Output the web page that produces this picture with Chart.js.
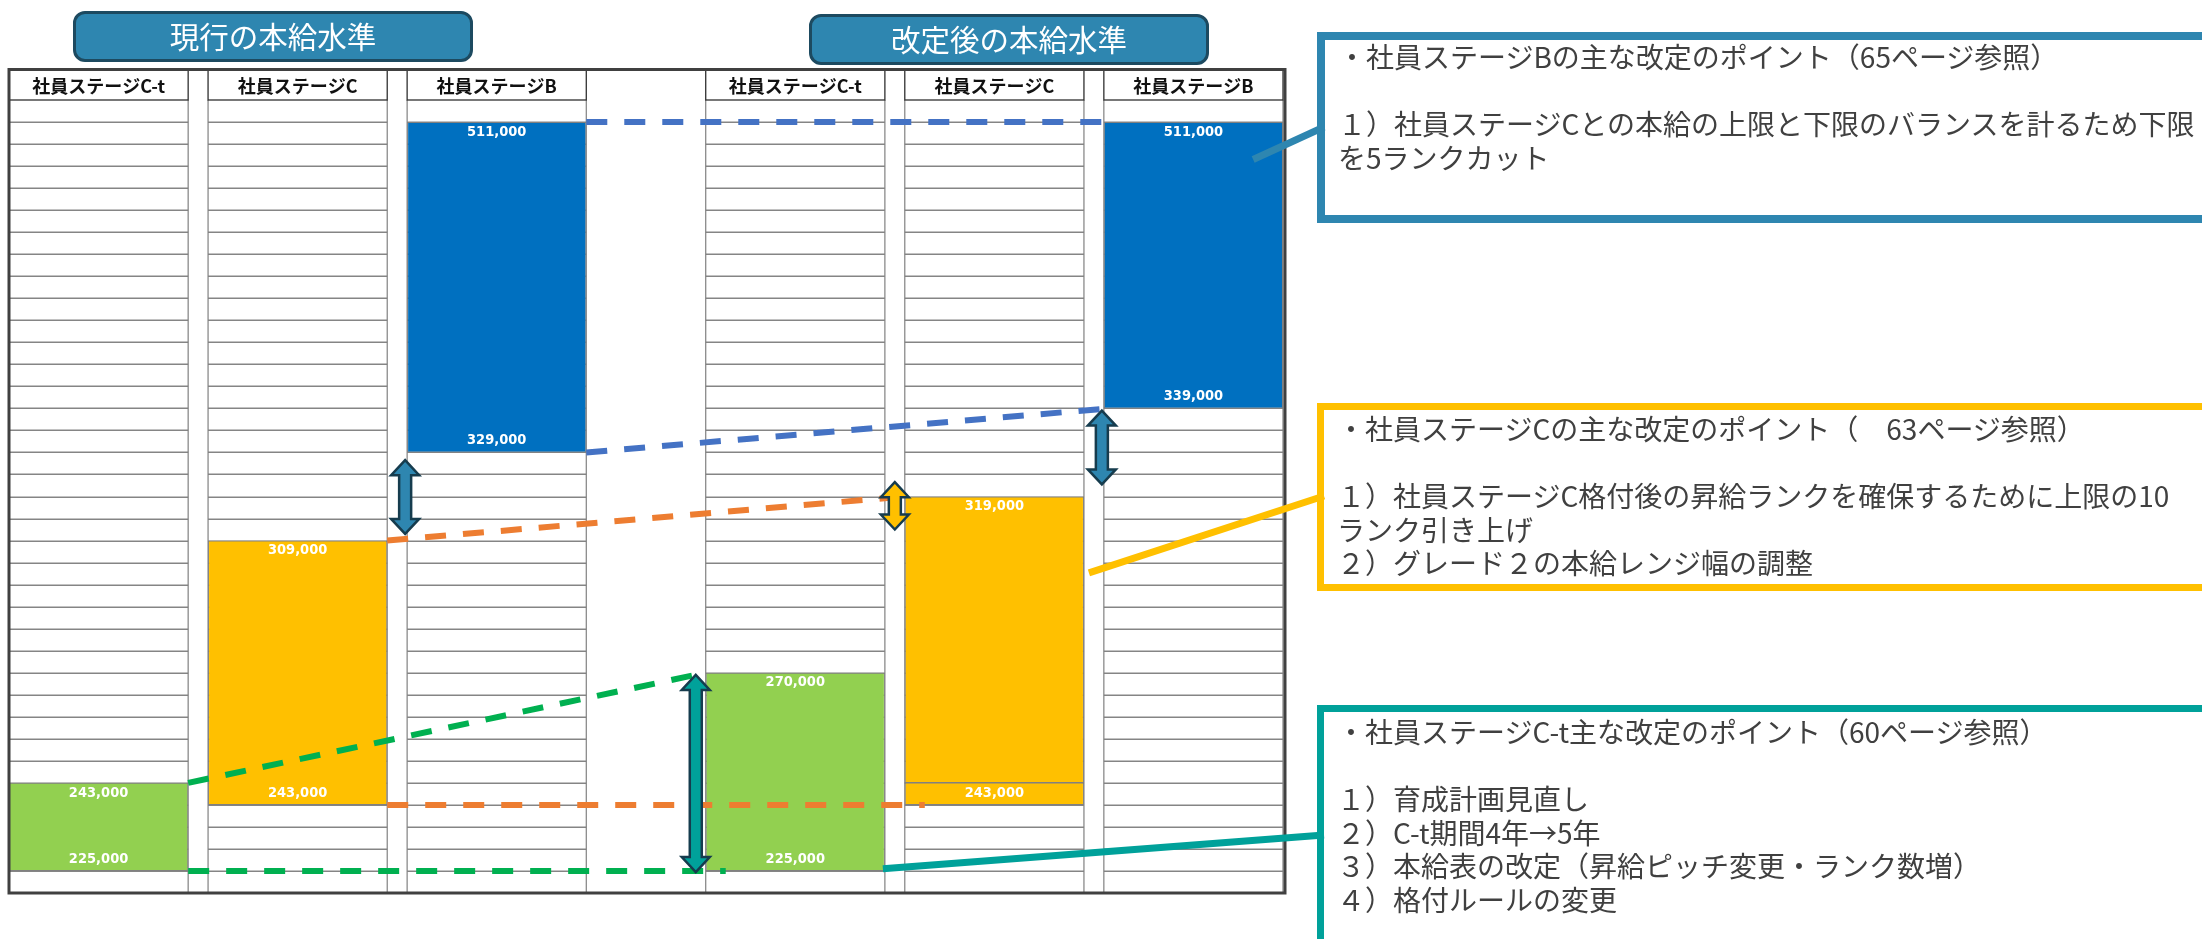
<!DOCTYPE html>
<html lang="ja">
<head>
<meta charset="utf-8">
<title>本給水準の改定</title>
<script src="https://cdn.jsdelivr.net/npm/chart.js@4.4.1/dist/chart.umd.min.js"></script>
<style>
  html, body { margin: 0; padding: 0; background: #fff; }
  body { width: 2202px; height: 939px; position: relative; overflow: hidden; font-family: 'Noto Sans CJK JP', 'Noto Sans', sans-serif; }
  #levels { position: absolute; left: 0; top: 0; }
  .period { position: absolute; box-sizing: border-box; width: 400px; height: 51px; background: #2E86B0; border: 3px solid #1D4A60; border-radius: 12px; color: #fff; font-size: 29.5px; line-height: 42px; text-align: center; }
  .note { position: absolute; left: 1317px; width: 950px; box-sizing: border-box; border: 7px solid; padding-left: 13px; color: #404040; font-size: 28px; line-height: 33.5px; white-space: nowrap; }
</style>
</head>
<body>
<canvas id="levels" width="2202" height="939"></canvas>

<div class="period" style="left:73px; top:11px;">現行の本給水準</div>
<div class="period" style="left:809px; top:14px;">改定後の本給水準</div>

<div class="note" style="top:32px; height:191px; border-width:8px; border-color:#2E86B0; padding-top:0;">
  ・社員ステージBの主な改定のポイント（65ページ参照）<br><br>
  １）社員ステージCとの本給の上限と下限のバランスを計るため下限<br>
  を5ランクカット
</div>
<div class="note" style="top:403px; height:188px; border-color:#FFC000; padding-top:2px;">
  ・社員ステージCの主な改定のポイント（　63ページ参照）<br><br>
  １）社員ステージC格付後の昇給ランクを確保するために上限の10<br>
  ランク引き上げ<br>
  ２）グレード２の本給レンジ幅の調整
</div>
<div class="note" style="top:705px; height:280px; border-color:#00A19A; padding-top:3px;">
  ・社員ステージC-t主な改定のポイント（60ページ参照）<br><br>
  １）育成計画見直し<br>
  ２）C-t期間4年→5年<br>
  ３）本給表の改定（昇給ピッチ変更・ランク数増）<br>
  ４）格付ルールの変更
</div>

<script>
// salary table: 36 rank rows, counted from the top row (0)
const rankCount = 36;
const stageNames = ['社員ステージC-t', '社員ステージC', '社員ステージB'];

// rank rows [first, end) covered by each stage
const currentRanks = [[31, 35], [20, 32], [1, 16]];
const revisedRanks = [[26, 35], [18, 32], [1, 14]];

// salary at the top and bottom of each stage
const currentUpper = [243000, 309000, 511000];
const currentLower = [225000, 243000, 329000];
const revisedUpper = [270000, 319000, 511000];
const revisedLower = [225000, 243000, 339000];

// revised stage C keeps its lowest rank as a separate cell
const revisedLowestCell = [false, true, false];

const stageColors = ['#92D050', '#FFC000', '#0070C0'];
const linkColors = ['#00B050', '#ED7D31', '#4472C4'];

// column positions on the x scale: three current, three revised
const slots = [0, 1, 2, 3.5, 4.5, 5.5];

const bands = [];
currentRanks.forEach((r, i) => bands.push({ x: slots[i], y: r, upper: currentUpper[i], lower: currentLower[i], stage: i }));
revisedRanks.forEach((r, i) => bands.push({ x: slots[i + 3], y: r, upper: revisedUpper[i], lower: revisedLower[i], stage: i, split: revisedLowestCell[i] }));

// double arrows showing the shift between stages (x on the column scale, rank rows)
const shiftArrows = [
  { x: 1.54, from: 16.35, to: 19.7, color: '#2E86B0' },
  { x: 5.04, from: 14.1, to: 17.45, color: '#2E86B0' },
  { x: 4.0, from: 17.35, to: 19.5, color: '#FFC000' },
  { x: 3.0, from: 26.1, to: 35.05, color: '#00A19A' },
];

// lines from the revised bands to the note boxes
const noteLinks = [
  { x: 5.8, rank: 2.7, toX: 1324, toY: 127, color: '#2E86B0' },
  { x: 4.975, rank: 21.47, toX: 1324, toY: 496, color: '#FFC000' },
  { x: 3.94, rank: 34.9, toX: 1324, toY: 835, color: '#00A19A' },
];

const fmt = v => v.toLocaleString('en-US');

function edges(el) {
  return { left: el.x - el.width / 2, right: el.x + el.width / 2 };
}

// header cells, column borders and rank rows behind the bands
const rankGrid = {
  id: 'rankGrid',
  beforeDatasetsDraw(chart) {
    const { ctx, chartArea, scales: { y } } = chart;
    const meta = chart.getDatasetMeta(0);
    ctx.save();
    meta.data.forEach((el, i) => {
      const { left, right } = edges(el);
      ctx.strokeStyle = '#858585';
      ctx.lineWidth = 1.6;
      for (let r = 1; r < rankCount; r++) {
        const yy = Math.round(y.getPixelForValue(r)) + 0.25;
        ctx.beginPath();
        ctx.moveTo(left, yy);
        ctx.lineTo(right, yy);
        ctx.stroke();
      }
      ctx.strokeStyle = '#808080';
      ctx.lineWidth = 1.2;
      [left, right].forEach(xx => {
        ctx.beginPath();
        ctx.moveTo(xx, chartArea.top);
        ctx.lineTo(xx, chartArea.bottom);
        ctx.stroke();
      });

      // header cell
      ctx.strokeStyle = '#303030';
      ctx.lineWidth = 1.3;
      ctx.strokeRect(left, 70, right - left, chartArea.top - 70);
      ctx.fillStyle = '#111';
      ctx.font = "bold 18px 'Noto Sans CJK JP'";
      ctx.textAlign = 'center';
      ctx.textBaseline = 'middle';
      ctx.fillText(stageNames[i % 3], el.x, (70 + chartArea.top) / 2 + 1);
    });
    ctx.restore();
  }
};

function drawArrow(ctx, cx, y0, y1, fill) {
  const head = 15, hw = 14, sw = 6;
  ctx.beginPath();
  ctx.moveTo(cx, y0);
  ctx.lineTo(cx + hw, y0 + head);
  ctx.lineTo(cx + sw, y0 + head);
  ctx.lineTo(cx + sw, y1 - head);
  ctx.lineTo(cx + hw, y1 - head);
  ctx.lineTo(cx, y1);
  ctx.lineTo(cx - hw, y1 - head);
  ctx.lineTo(cx - sw, y1 - head);
  ctx.lineTo(cx - sw, y0 + head);
  ctx.lineTo(cx - hw, y0 + head);
  ctx.closePath();
  ctx.fillStyle = fill;
  ctx.fill();
  ctx.lineWidth = 2.5;
  ctx.lineJoin = 'miter';
  ctx.strokeStyle = '#163C4E';
  ctx.stroke();
}

// labels, frame, dashed links, arrows and note lines over the bands
const overlays = {
  id: 'overlays',
  afterDatasetsDraw(chart) {
    const { ctx, chartArea, scales: { x, y } } = chart;
    const meta = chart.getDatasetMeta(0);
    ctx.save();

    meta.data.forEach((el, i) => {
      const band = bands[i];
      const { left, right } = edges(el);
      if (band.split) {
        const yy = y.getPixelForValue(band.y[1] - 1);
        ctx.strokeStyle = '#808080';
        ctx.lineWidth = 1.5;
        ctx.beginPath();
        ctx.moveTo(left, yy);
        ctx.lineTo(right, yy);
        ctx.stroke();
      }
      ctx.fillStyle = '#ffffff';
      ctx.font = "bold 14.5px 'DejaVu Sans Condensed', 'DejaVu Sans'";
      ctx.textAlign = 'center';
      ctx.textBaseline = 'middle';
      ctx.fillText(fmt(band.upper), el.x, y.getPixelForValue(band.y[0] + 0.45));
      ctx.fillText(fmt(band.lower), el.x, y.getPixelForValue(band.y[1] - 0.55));
    });

    // outer frame
    ctx.strokeStyle = '#404040';
    ctx.lineWidth = 3;
    ctx.strokeRect(chartArea.left, 69.5, chartArea.right - chartArea.left, chartArea.bottom - 69.5);

    // dashed links between current and revised band edges
    ctx.lineWidth = 6;
    ctx.setLineDash([21, 17]);
    ctx.lineCap = 'butt';
    for (let s = 0; s < 3; s++) {
      const cur = edges(meta.data[s]);
      const rev = edges(meta.data[s + 3]);
      ctx.strokeStyle = linkColors[s];
      [0, 1].forEach(k => {
        const a = currentRanks[s][k];
        const b = revisedRanks[s][k];
        const reach = k === 1 ? (a === b ? 20 : 5) : 0;
        ctx.beginPath();
        ctx.moveTo(cur.right, y.getPixelForValue(a));
        ctx.lineTo(rev.left + reach, y.getPixelForValue(b));
        ctx.stroke();
      });
    }
    ctx.setLineDash([]);

    shiftArrows.forEach(a => {
      drawArrow(ctx, x.getPixelForValue(a.x), y.getPixelForValue(a.from), y.getPixelForValue(a.to), a.color);
    });

    ctx.lineWidth = 7;
    noteLinks.forEach(n => {
      ctx.strokeStyle = n.color;
      ctx.beginPath();
      ctx.moveTo(x.getPixelForValue(n.x), y.getPixelForValue(n.rank));
      ctx.lineTo(n.toX, n.toY);
      ctx.stroke();
    });

    ctx.restore();
  }
};

new Chart(document.getElementById('levels'), {
  type: 'bar',
  data: {
    datasets: [{
      data: bands,
      backgroundColor: bands.map(b => stageColors[b.stage]),
      borderColor: '#808080',
      borderWidth: 1,
      borderSkipped: false,
      categoryPercentage: 0.9,
      barPercentage: 1
    }]
  },
  options: {
    responsive: false,
    animation: false,
    devicePixelRatio: 1,
    layout: { padding: { left: 9, top: 100, right: 917, bottom: 46 } },
    plugins: { legend: { display: false }, tooltip: { enabled: false } },
    scales: {
      x: {
        type: 'linear',
        offset: false,
        min: -0.45,
        max: 5.96,
        display: false,
        afterBuildTicks: axis => { axis.ticks = slots.map(v => ({ value: v })); }
      },
      y: { type: 'linear', reverse: true, min: 0, max: rankCount, display: false }
    }
  },
  plugins: [rankGrid, overlays]
});
</script>
</body>
</html>
